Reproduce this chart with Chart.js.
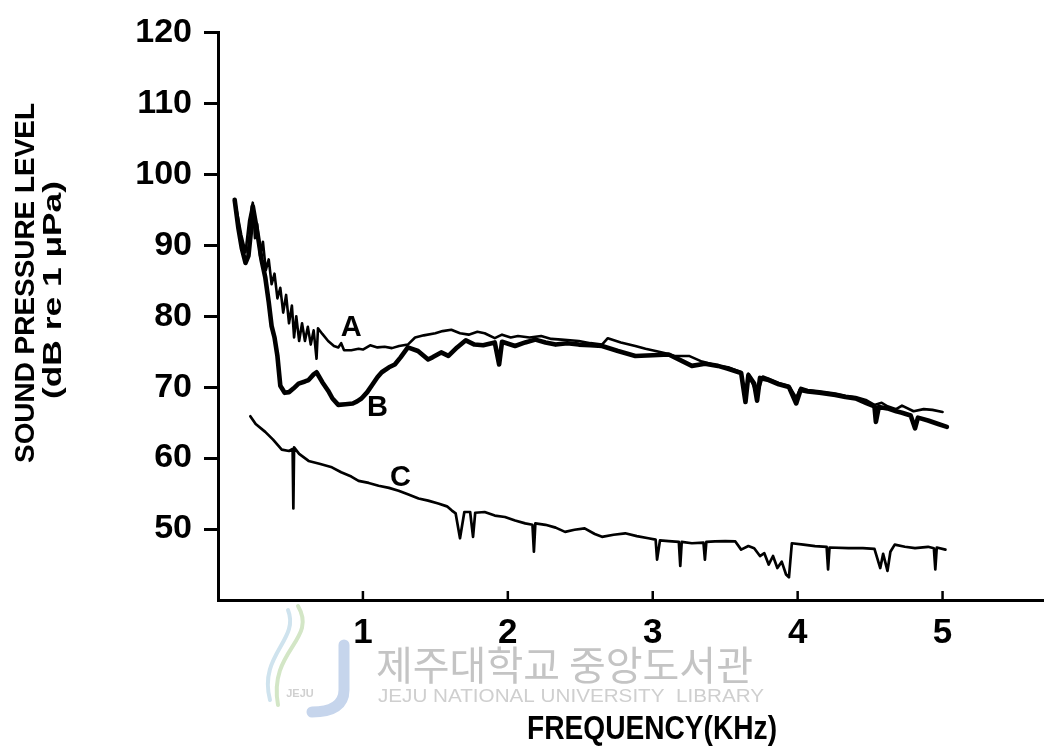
<!DOCTYPE html>
<html>
<head>
<meta charset="utf-8">
<script src="https://cdn.jsdelivr.net/npm/chart.js@4.4.1/dist/chart.umd.min.js"></script>
<style>
  html, body { margin: 0; padding: 0; background: #fff; }
  canvas { display: block; }
</style>
</head>
<body>
<canvas id="chart" width="1044" height="747"></canvas>
<script>
// frequency (kHz) / level (dB re 1 uPa)
const curveA = [
  [0.115, 96.4], [0.16, 91.5], [0.19, 89.0], [0.215, 93.5], [0.24, 96.0], [0.255, 91.0],
  [0.27, 93.0], [0.29, 88.5], [0.31, 90.5], [0.33, 86.5], [0.35, 88.0], [0.37, 84.5],
  [0.39, 86.0], [0.41, 82.5], [0.43, 84.0], [0.45, 80.5], [0.47, 83.0], [0.49, 79.0],
  [0.51, 81.5], [0.525, 77.0], [0.54, 80.0], [0.56, 76.5], [0.58, 79.0], [0.60, 76.5],
  [0.62, 78.5], [0.64, 76.0], [0.66, 78.0], [0.68, 74.0], [0.69, 78.3], [0.72, 77.5],
  [0.76, 76.5], [0.80, 75.8], [0.83, 75.6], [0.85, 76.2], [0.87, 75.2], [0.92, 75.2],
  [0.97, 75.4], [1.00, 75.3], [1.05, 75.9], [1.10, 75.6], [1.15, 75.7], [1.20, 75.5],
  [1.25, 75.8], [1.31, 76.0], [1.36, 77.0], [1.42, 77.3], [1.50, 77.6], [1.55, 77.9],
  [1.61, 78.1], [1.67, 77.6], [1.73, 77.4], [1.79, 77.8], [1.84, 77.6], [1.91, 76.9],
  [1.96, 77.4], [2.02, 77.0], [2.07, 77.2], [2.15, 77.0], [2.23, 77.2], [2.30, 76.8],
  [2.37, 76.7], [2.43, 76.6], [2.49, 76.5], [2.57, 76.2], [2.65, 76.0], [2.69, 76.9],
  [2.78, 76.3], [2.88, 75.8], [2.95, 75.4], [3.02, 75.1], [3.08, 74.8], [3.15, 74.4],
  [3.25, 74.4], [3.34, 73.6], [3.45, 73.0], [3.52, 72.8], [3.61, 72.1], [3.64, 68.5],
  [3.66, 71.9], [3.72, 69.0], [3.76, 71.5], [3.80, 71.2], [3.87, 70.6], [3.94, 70.2],
  [3.99, 68.5], [4.02, 69.9], [4.07, 69.6], [4.15, 69.4], [4.26, 69.1], [4.33, 68.8],
  [4.40, 68.6], [4.47, 68.2], [4.53, 67.5], [4.58, 67.8], [4.62, 67.3], [4.68, 66.9],
  [4.72, 67.4], [4.80, 66.6], [4.87, 66.9], [4.93, 66.8], [5.00, 66.5]
];

const curveB = [
  [0.115, 96.4], [0.14, 92.5], [0.165, 89.5], [0.19, 87.5], [0.21, 88.5], [0.225, 91.5],
  [0.24, 95.5], [0.27, 92.0], [0.30, 88.0], [0.326, 85.5], [0.35, 82.0], [0.37, 78.6],
  [0.39, 77.0], [0.41, 74.4], [0.43, 70.2], [0.46, 69.2], [0.49, 69.3], [0.52, 69.8],
  [0.556, 70.5], [0.60, 70.8], [0.625, 71.0], [0.66, 71.8], [0.68, 72.1], [0.72, 70.7],
  [0.76, 69.5], [0.79, 68.4], [0.83, 67.5], [0.88, 67.6], [0.93, 67.7], [0.96, 68.0],
  [0.99, 68.4], [1.03, 69.3], [1.06, 70.2], [1.10, 71.4], [1.13, 72.1], [1.18, 72.8],
  [1.22, 73.2], [1.26, 74.2], [1.31, 75.6], [1.38, 75.1], [1.45, 73.9], [1.48, 74.2],
  [1.54, 74.9], [1.59, 74.4], [1.65, 75.6], [1.71, 76.6], [1.77, 76.0], [1.83, 75.9],
  [1.91, 76.3], [1.94, 73.2], [1.96, 76.4], [2.05, 75.8], [2.12, 76.3], [2.19, 76.7],
  [2.26, 76.3], [2.33, 76.0], [2.41, 76.2], [2.49, 76.0], [2.57, 75.9], [2.65, 75.8],
  [2.76, 75.1], [2.88, 74.4], [3.00, 74.5], [3.11, 74.6], [3.19, 73.8], [3.27, 73.0],
  [3.36, 73.3], [3.45, 73.0], [3.52, 72.6], [3.61, 72.0], [3.64, 67.9], [3.66, 71.7],
  [3.70, 70.5], [3.72, 68.1], [3.74, 71.3], [3.80, 71.0], [3.87, 70.4], [3.94, 70.0],
  [3.99, 67.7], [4.02, 69.6], [4.07, 69.4], [4.15, 69.2], [4.26, 68.9], [4.33, 68.6],
  [4.40, 68.4], [4.47, 67.8], [4.53, 67.3], [4.54, 65.1], [4.56, 67.2], [4.62, 67.0],
  [4.68, 66.6], [4.72, 66.4], [4.78, 66.0], [4.81, 64.2], [4.83, 65.7], [4.90, 65.3],
  [4.97, 64.8], [5.03, 64.4]
];

const curveC = [
  [0.223, 65.9], [0.26, 64.8], [0.326, 63.7], [0.38, 62.6], [0.44, 61.2], [0.49, 61.0],
  [0.515, 61.3], [0.52, 52.9], [0.525, 61.5], [0.56, 60.6], [0.625, 59.6], [0.70, 59.2],
  [0.786, 58.7], [0.85, 58.0], [0.92, 57.4], [0.97, 56.8], [1.04, 56.5], [1.108, 56.1],
  [1.18, 55.8], [1.246, 55.4], [1.31, 54.9], [1.384, 54.3], [1.45, 54.0], [1.52, 53.6],
  [1.58, 53.2], [1.614, 52.6], [1.64, 52.2], [1.67, 48.7], [1.70, 52.4], [1.74, 52.4],
  [1.76, 48.9], [1.775, 52.3], [1.84, 52.4], [1.91, 51.9], [1.98, 51.7], [2.05, 51.2],
  [2.12, 50.8], [2.17, 50.6], [2.18, 46.8], [2.19, 50.8], [2.26, 50.6], [2.33, 50.2],
  [2.395, 49.6], [2.46, 49.9], [2.53, 50.1], [2.60, 49.3], [2.65, 48.9], [2.73, 49.2],
  [2.81, 49.4], [2.89, 49.0], [2.97, 48.7], [3.02, 48.5], [3.03, 45.7], [3.05, 48.4],
  [3.11, 48.3], [3.18, 48.2], [3.19, 44.8], [3.20, 48.2], [3.27, 48.0], [3.35, 48.1],
  [3.36, 45.7], [3.37, 48.2], [3.43, 48.25], [3.50, 48.3], [3.57, 48.25], [3.61, 47.1],
  [3.66, 47.6], [3.70, 47.3], [3.74, 46.2], [3.77, 46.6], [3.80, 45.0], [3.83, 46.2],
  [3.86, 44.5], [3.89, 45.4], [3.92, 43.6], [3.94, 43.2], [3.96, 48.0], [4.04, 47.8],
  [4.12, 47.6], [4.20, 47.5], [4.21, 44.3], [4.22, 47.4], [4.35, 47.3], [4.45, 47.3],
  [4.53, 47.2], [4.57, 44.5], [4.59, 46.5], [4.62, 44.1], [4.64, 46.8], [4.67, 47.8],
  [4.74, 47.5], [4.81, 47.3], [4.90, 47.5], [4.94, 47.3], [4.95, 44.3], [4.96, 47.4],
  [5.02, 47.1]
];

const xTicks = [1, 2, 3, 4, 5];
const yTicks = [50, 60, 70, 80, 90, 100, 110, 120];

// curve letters, anchored in data units
const curveLabels = [
  { text: 'A', x: 0.92, y: 78.4 },
  { text: 'B', x: 1.10, y: 67.1 },
  { text: 'C', x: 1.26, y: 57.2 }
];

const toPoints = arr => arr.map(p => ({ x: p[0], y: p[1] }));

const sans = '"Liberation Sans", Arial, sans-serif';

// draws text squeezed (or stretched) horizontally to a given width
function fitText(c, text, cx, cy, width) {
    const w = c.measureText(text).width;
    c.save();
    c.translate(cx, cy);
    c.scale(width / w, 1);
    c.fillText(text, 0, 0);
    c.restore();
}

const figurePlugin = {
    id: 'figure',
    beforeDraw(chart) {
        const c = chart.ctx;
        c.save();
        // faded library logo + watermark from the scanned page
        c.lineCap = 'round';
        c.strokeStyle = '#c6d5ec';
        c.lineWidth = 11;
        c.beginPath();
        c.moveTo(344, 645);
        c.lineTo(344, 690);
        c.quadraticCurveTo(344, 712, 312, 712);
        c.stroke();
        c.lineWidth = 4;
        c.strokeStyle = '#d3e6c6';
        c.beginPath();
        c.moveTo(298, 606);
        c.bezierCurveTo(318, 640, 268, 650, 278, 705);
        c.stroke();
        c.strokeStyle = '#cfe3ee';
        c.beginPath();
        c.moveTo(288, 610);
        c.bezierCurveTo(300, 640, 258, 655, 270, 700);
        c.stroke();
        c.fillStyle = '#d0d0d0';
        c.font = 'bold 11px ' + sans;
        c.textAlign = 'center';
        c.fillText('JEJU', 300, 697);

        c.fillStyle = '#c4c4c4';
        c.font = '40px "Noto Sans CJK KR", sans-serif';
        c.textBaseline = 'middle';
        c.textAlign = 'left';
        c.fillText('제주대학교 중앙도서관', 376, 665);
        c.fillStyle = '#cfcfcf';
        c.font = '19px ' + sans;
        c.textAlign = 'center';
        fitText(c, 'JEJU NATIONAL UNIVERSITY  LIBRARY', 571, 697, 386);
        c.restore();
    },
    afterDraw(chart) {
        const c = chart.ctx;
        const xs = chart.scales.x;
        const ys = chart.scales.y;
        c.save();
        // inward tick marks on the frequency axis
        c.strokeStyle = '#000';
        c.lineWidth = 2.5;
        xTicks.forEach(v => {
            const px = xs.getPixelForValue(v);
            c.beginPath();
            c.moveTo(px, ys.bottom);
            c.lineTo(px, ys.bottom - 9);
            c.stroke();
        });
        // curve letters
        c.fillStyle = '#000';
        c.font = 'bold 29px ' + sans;
        c.textAlign = 'center';
        c.textBaseline = 'middle';
        curveLabels.forEach(l => {
            c.fillText(l.text, xs.getPixelForValue(l.x), ys.getPixelForValue(l.y));
        });
        // axis titles (condensed lettering of the original)
        c.font = 'bold 34px ' + sans;
        fitText(c, 'FREQUENCY(KHz)', 652, 730, 250);
        c.translate(0, 283);
        c.rotate(-Math.PI / 2);
        c.font = 'bold 28px ' + sans;
        fitText(c, 'SOUND PRESSURE LEVEL', 0, 26, 360);
        c.font = 'bold 26px ' + sans;
        fitText(c, '(dB re 1 \u03BCPa)', -7, 54, 218);
        c.restore();
    }
};

const lineStyle = (data, width) => ({
    data: toPoints(data),
    borderColor: '#000',
    borderWidth: width,
    pointRadius: 0,
    tension: 0,
    fill: false,
    borderJoinStyle: 'round',
    borderCapStyle: 'round'
});

new Chart(document.getElementById('chart').getContext('2d'), {
    type: 'line',
    data: {
        datasets: [
            lineStyle(curveA, 2.6),
            lineStyle(curveB, 4.6),
            lineStyle(curveC, 2.7)
        ]
    },
    options: {
        responsive: false,
        animation: false,
        devicePixelRatio: 1,
        layout: { padding: { top: 22, right: 0, left: 0, bottom: 0 } },
        plugins: {
            legend: { display: false },
            tooltip: { enabled: false },
            title: { display: false }
        },
        elements: { line: { clip: false } },
        scales: {
            x: {
                type: 'linear',
                min: 0,
                max: 5.7,
                afterBuildTicks: s => { s.ticks = xTicks.map(v => ({ value: v })); },
                afterFit: s => { s.height = 147; },
                grid: { drawOnChartArea: false, drawTicks: false },
                border: { display: true, color: '#000', width: 3 },
                ticks: {
                    color: '#000',
                    padding: 12,
                    font: { family: sans, size: 35, weight: 'bold' },
                    callback: v => String(v)
                }
            },
            y: {
                min: 40,
                max: 120,
                afterBuildTicks: s => { s.ticks = yTicks.map(v => ({ value: v })); },
                afterFit: s => { s.width = 218; },
                grid: {
                    drawOnChartArea: false,
                    drawTicks: true,
                    tickLength: 14,
                    tickWidth: 3,
                    tickColor: '#000'
                },
                border: { display: true, color: '#000', width: 3 },
                ticks: {
                    color: '#000',
                    padding: 12,
                    font: { family: sans, size: 34, weight: 'bold' },
                    callback: v => String(v)
                }
            }
        }
    },
    plugins: [figurePlugin]
});
</script>
</body>
</html>
